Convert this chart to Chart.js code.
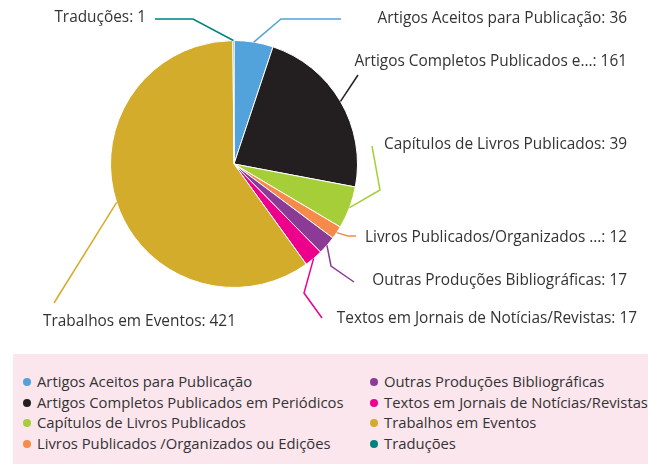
<!DOCTYPE html>
<html>
<head>
<meta charset="utf-8">
<script src="https://cdn.jsdelivr.net/npm/chart.js@4/dist/chart.umd.min.js"></script>
<style>
  body { margin: 0; background: #fff; font-family: "Open Sans", sans-serif; }
  #wrap { position: relative; width: 648px; height: 465px; }
  #legendBox {
    position: absolute; left: 13px; top: 354px; width: 635px; height: 110px;
    background: #fce6ee;
  }
  .item { position: absolute; font-size: 14.8px; color: #333; white-space: nowrap; line-height: 20px; }
  .dot { display: inline-block; width: 8px; height: 8px; border-radius: 50%; margin-right: 6px; vertical-align: 1px; }
</style>
</head>
<body>
<div id="wrap">
  <canvas id="canvasProducao" width="648" height="345"></canvas>
  <div id="legendBox"></div>
</div>
<script>
const categories = [
  "Artigos Aceitos para Publicação",
  "Artigos Completos Publicados em Periódicos",
  "Capítulos de Livros Publicados",
  "Livros Publicados /Organizados ou Edições",
  "Outras Produções Bibliográficas",
  "Textos em Jornais de Notícias/Revistas",
  "Trabalhos em Eventos",
  "Traduções"
];
const calloutNames = [
  "Artigos Aceitos para Publicação",
  "Artigos Completos Publicados e...",
  "Capítulos de Livros Publicados",
  "Livros Publicados/Organizados ...",
  "Outras Produções Bibliográficas",
  "Textos em Jornais de Notícias/Revistas",
  "Trabalhos em Eventos",
  "Traduções"
];
const quantities = [36, 161, 39, 12, 17, 17, 421, 1];
const sliceColors = ["#52a2db", "#231f20", "#a6ce39", "#f58a4b", "#8b3a96", "#ec008c", "#d3ac2b", "#00827f"];

// callout layout: elbow point, line end, text anchor
const calloutSpots = [
  { elbow: [281, 19], end: [341, 19], text: [627, 19], align: "right" },
  { elbow: [358, 75], end: [358, 75], text: [627, 62], align: "right" },
  { elbow: [380, 190], end: [372, 146], text: [627, 145], align: "right" },
  { elbow: [348, 236], end: [356, 236], text: [627, 238], align: "right" },
  { elbow: [331, 266], end: [354, 282], text: [627, 281], align: "right" },
  { elbow: [304, 293], end: [322, 318], text: [637, 319], align: "right" },
  { elbow: [54, 303], end: [54, 303], text: [43, 322], align: "left" },
  { elbow: [193, 19], end: [155, 19], text: [146, 18], align: "right" }
];

const calloutPlugin = {
  id: 'callouts',
  afterDraw(chart) {
    const ctx = chart.ctx;
    const meta = chart.getDatasetMeta(0);
    ctx.save();
    meta.data.forEach((arc, i) => {
      const spot = calloutSpots[i];
      const mid = (arc.startAngle + arc.endAngle) / 2;
      const sx = arc.x + Math.cos(mid) * arc.outerRadius;
      const sy = arc.y + Math.sin(mid) * arc.outerRadius;
      ctx.strokeStyle = sliceColors[i];
      ctx.lineWidth = 1.5;
      ctx.beginPath();
      ctx.moveTo(sx, sy);
      ctx.lineTo(spot.elbow[0], spot.elbow[1]);
      ctx.lineTo(spot.end[0], spot.end[1]);
      ctx.stroke();
      ctx.fillStyle = "#333";
      ctx.font = '15.4px "Open Sans"';
      ctx.textAlign = spot.align;
      ctx.textBaseline = "middle";
      ctx.fillText(calloutNames[i] + ": " + quantities[i], spot.text[0], spot.text[1]);
    });
    ctx.restore();
  }
};

const ctx = document.getElementById("canvasProducao").getContext("2d");
const chartProducao = new Chart(ctx, {
  type: 'pie',
  data: {
    labels: categories,
    datasets: [{
      data: quantities,
      backgroundColor: sliceColors,
      borderColor: "#ffffff",
      borderWidth: 1
    }]
  },
  options: {
    responsive: false,
    animation: false,
    layout: { padding: { left: 0, right: 180, top: 40, bottom: 57 } },
    plugins: {
      legend: { display: false },
      tooltip: { enabled: false }
    }
  },
  plugins: [calloutPlugin]
});

// legend, two columns
const box = document.getElementById("legendBox");
categories.forEach((name, i) => {
  const col = Math.floor(i / 4), row = i % 4;
  const el = document.createElement("div");
  el.className = "item";
  el.style.left = (col === 0 ? 10 : 357) + "px";
  el.style.top = (17 + row * 20.5) + "px";
  el.innerHTML = '<span class="dot" style="background:' + sliceColors[i] + '"></span>' + name;
  box.appendChild(el);
});
</script>
</body>
</html>
